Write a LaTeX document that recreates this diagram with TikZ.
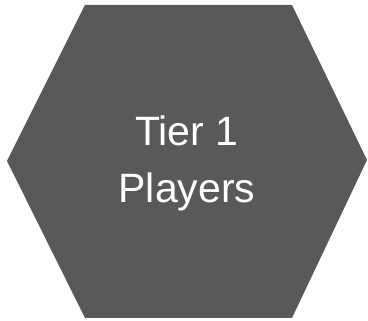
\documentclass[tikz,border=0pt]{standalone}
\usepackage{fontspec}
\setmainfont{Liberation Sans}
\definecolor{hexfill}{HTML}{595959}
\begin{document}
\begin{tikzpicture}[x=1pt,y=-1pt,
  hexlabel/.style={text=white,align=center,font=\fontsize{41}{57}\selectfont}]
\useasboundingbox (0,0) rectangle (368,321);
\fill[hexfill] (7,161) -- (85,5) -- (292,5) -- (367,160) -- (292,318) -- (85,318) -- cycle;
\node[hexlabel] (lbl) at (187,163) {Tier 1\\Players};
\end{tikzpicture}
\end{document}
